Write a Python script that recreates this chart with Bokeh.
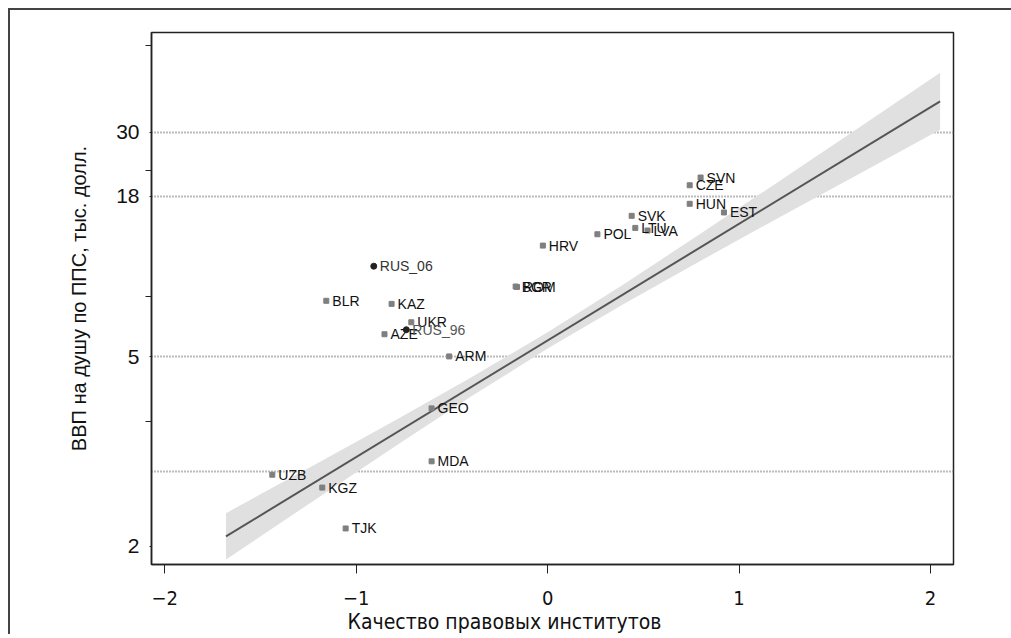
from bokeh.plotting import figure
from bokeh.models import FixedTicker, Range1d, Title, ColumnDataSource
from bokeh.embed import file_html
from bokeh.resources import INLINE
from bokeh.core.properties import value

# ---- data ----
countries = ["BLR", "KAZ", "UKR", "AZE", "ARM", "BGR", "ROM", "HRV", "POL", "SVK",
             "LTU", "LVA", "SVN", "CZE", "HUN", "EST", "GEO", "MDA", "UZB", "KGZ", "TJK"]
quality = [-1.156, -0.815, -0.712, -0.852, -0.514, -0.167, -0.160, -0.025, 0.260, 0.439,
           0.458, 0.522, 0.799, 0.742, 0.742, 0.921, -0.606, -0.606, -1.438, -1.177, -1.055]
gdp = [7.81, 7.62, 6.58, 5.98, 5.01, 8.75, 8.72, 12.13, 13.28, 15.38,
       13.97, 13.68, 20.88, 19.63, 16.93, 15.80, 3.31, 2.17, 1.95, 1.76, 1.27]

rus_labels = ["RUS_06", "RUS_96"]
rus_quality = [-0.908, -0.738]
rus_gdp = [10.29, 6.20]
rus_text_colors = ["#333333", "#555555"]

fit_x = [-1.68, 2.05]
fit_y = [1.192, 38.35]

band_x = [-1.68, -1.2, -0.8, -0.4, 0.0, 0.4, 0.8, 1.2, 1.6, 2.05]
band_lo = [0.991, 1.621, 2.437, 3.637, 5.334, 7.633, 10.755, 15.056, 21.02, 30.56]
band_hi = [1.435, 2.141, 2.999, 4.231, 6.074, 8.935, 13.353, 20.08, 30.28, 48.12]

ref_levels = [2, 5, 18, 30]
y_ticks = [1.1, 5, 18, 30]
y_tick_labels = ["2", "5", "18", "30"]
y_minor = [2.981, 8.103, 22.026, 59.874]
x_ticks = [-2, -1, 0, 1, 2]
x_tick_labels = ["\u22122", "\u22121", "0", "1", "2"]

FONT = "Liberation Sans"
NARROW = "'DejaVu Sans Condensed', 'Liberation Sans Narrow', 'Liberation Sans', sans-serif"

p = figure(
    output_backend="svg", toolbar_location=None,
    y_axis_type="log",
    frame_width=802, frame_height=532,
    min_border_left=141, min_border_top=22, min_border_right=58, min_border_bottom=10,
    x_range=Range1d(-2.069, 2.12), y_range=Range1d(0.9527, 66.4),
    background_fill_color="white", border_fill_color="white",
)
p.styles = {"margin-left": "8px", "margin-top": "8px",
            "border-left": "2px solid #444", "border-top": "2px solid #444"}

p.outline_line_color = "#222"
p.outline_line_width = 1.5
p.xgrid.visible = False
p.ygrid.ticker = FixedTicker(ticks=ref_levels)
p.ygrid.grid_line_color = "#777777"
p.ygrid.grid_line_dash = "1 2"
p.ygrid.grid_line_width = 1.8

# confidence band and fit
p.varea(x=band_x, y1=band_lo, y2=band_hi, fill_color="#e0e0e0", fill_alpha=1.0)
p.line(x=fit_x, y=fit_y, line_color="#555555", line_width=2)

src = ColumnDataSource(dict(x=quality, y=gdp, name=countries))
p.scatter("x", "y", source=src, marker="square", size=5, fill_color="#7f7f7f",
          line_color="#7f7f7f")
p.text("x", "y", text="name", source=src, x_offset=6, text_baseline="middle",
       text_font=value(FONT), text_font_size="14px", text_color="#111111")

rsrc = ColumnDataSource(dict(x=rus_quality, y=rus_gdp, name=rus_labels, c=rus_text_colors))
p.scatter("x", "y", source=rsrc, marker="circle", size=6, fill_color="#222222",
          line_color="#222222")
p.text("x", "y", text="name", source=rsrc, x_offset=6, text_baseline="middle",
       text_font=value(FONT), text_font_size="14px", text_color="c")

# y axis
ya = p.yaxis[0]
ya.ticker = FixedTicker(ticks=y_ticks, minor_ticks=y_minor)
ya.major_label_overrides = dict(zip(y_ticks, y_tick_labels))
ya.major_tick_out = 2
ya.major_tick_in = 0
ya.minor_tick_out = 6
ya.minor_tick_in = 0
ya.axis_line_color = "#222"
ya.axis_line_width = 1.5
ya.major_tick_line_color = "#222"
ya.minor_tick_line_color = "#222"
ya.major_label_text_font = FONT
ya.major_label_text_font_size = "21px"
ya.major_label_text_color = "#111"
ya.major_label_standoff = 6
ya.axis_label = "ВВП на душу по ППС, тыс. долл."
ya.axis_label_text_font = FONT
ya.axis_label_text_font_size = "20px"
ya.axis_label_text_font_style = "normal"
ya.axis_label_text_color = "#111"
ya.axis_label_standoff = 23

# x axis
xa = p.xaxis[0]
xa.ticker = FixedTicker(ticks=x_ticks)
xa.major_label_overrides = dict(zip(x_ticks, x_tick_labels))
xa.major_tick_out = 9
xa.major_tick_in = 0
xa.minor_tick_out = 0
xa.axis_line_color = "#222"
xa.axis_line_width = 1.5
xa.major_tick_line_color = "#222"
xa.major_label_text_font = NARROW
xa.major_label_text_font_size = "20px"
xa.major_label_text_color = "#111"
xa.major_label_standoff = 17

p.add_layout(Title(text="Качество правовых институтов", align="left", offset=196,
                   standoff=1, text_font=NARROW, text_font_size="21px",
                   text_font_style="normal", text_color="#111"), "below")

open("out.html", "w").write(file_html(p, INLINE))
